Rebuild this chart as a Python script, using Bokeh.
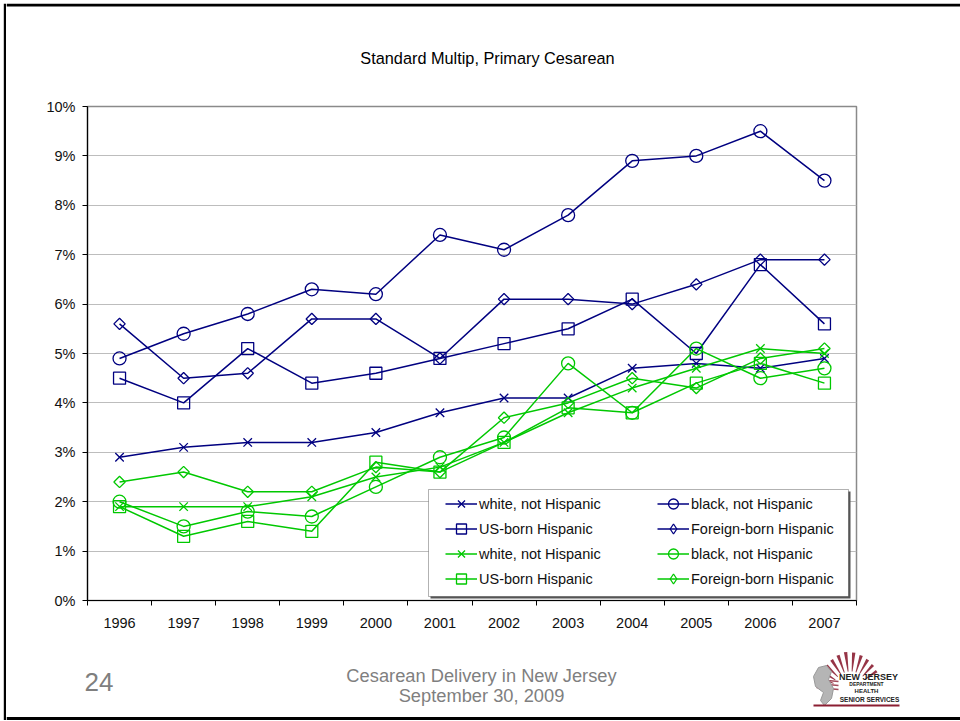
import numpy as np
from bokeh.plotting import figure
from bokeh.layouts import row, column
from bokeh.core.properties import value
from bokeh.models import (FixedTicker, PrintfTickFormatter, Legend, LegendItem,
                          BoxAnnotation, Range1d)
from bokeh.embed import file_html
from bokeh.resources import INLINE

# ---------------- data ----------------
years = [1996, 1997, 1998, 1999, 2000, 2001, 2002, 2003, 2004, 2005, 2006, 2007]
blue_white = [2.9, 3.1, 3.2, 3.2, 3.4, 3.8, 4.1, 4.1, 4.7, 4.8, 4.7, 4.9]
blue_black = [4.9, 5.4, 5.8, 6.3, 6.2, 7.4, 7.1, 7.8, 8.9, 9.0, 9.5, 8.5]
blue_us = [4.5, 4.0, 5.1, 4.4, 4.6, 4.9, 5.2, 5.5, 6.1, 5.0, 6.8, 5.6]
blue_foreign = [5.6, 4.5, 4.6, 5.7, 5.7, 4.9, 6.1, 6.1, 6.0, 6.4, 6.9, 6.9]
green_white = [1.9, 1.9, 1.9, 2.1, 2.5, 2.7, 3.2, 3.8, 4.3, 4.7, 5.1, 5.0]
green_black = [2.0, 1.5, 1.8, 1.7, 2.3, 2.9, 3.3, 4.8, 3.8, 5.1, 4.5, 4.7]
green_us = [1.9, 1.3, 1.6, 1.4, 2.8, 2.6, 3.2, 3.9, 3.8, 4.4, 4.8, 4.4]
green_foreign = [2.4, 2.6, 2.2, 2.2, 2.7, 2.6, 3.7, 4.0, 4.5, 4.3, 4.9, 5.1]
series_labels = ["white, not Hispanic", "black, not Hispanic",
                 "US-born Hispanic", "Foreign-born Hispanic"]
y_ticks = [0, 1, 2, 3, 4, 5, 6, 7, 8, 9, 10]
title_text = "Standard Multip, Primary Cesarean"
footer1 = "Cesarean Delivery in New Jersey"
footer2 = "September 30, 2009"
slide_no = "24"
logo_texts = ["NEW JERSEY", "DEPARTMENT", "HEALTH", "SENIOR SERVICES"]

BLUE = "#000080"
GREEN = "#00C800"
MAROON = "#8b1e32"
GREY = "#7f7f7f"
FONT = "Liberation Sans"

PAGE_W, PAGE_H = 960, 721
STRIP_W = 6
COL_W = PAGE_W - STRIP_W
TOP_H, CHART_H = 90, 550
FOOT_H = PAGE_H - TOP_H - CHART_H


def pixel_fig(w, h):
    """helper figure whose frame fills the canvas, y measured downward in px"""
    f = figure(width=w, height=h, output_backend="svg", toolbar_location=None,
               x_range=Range1d(0, w), y_range=Range1d(h, 0),
               x_axis_location=None, y_axis_location=None, min_border=0,
               frame_align=False)
    f.title.visible = False
    f.outline_line_color = None
    f.grid.visible = False
    f.background_fill_color = "white"
    f.border_fill_color = "white"
    return f


# ---------------- left strip with slide border ----------------
strip = pixel_fig(STRIP_W, PAGE_H)
strip.quad(left=[3.3], right=[6], top=[3.3], bottom=[719.5], fill_color="black",
           line_color=None)

# ---------------- top: title ----------------
top = pixel_fig(COL_W, TOP_H)
top.quad(left=[0], right=[COL_W], top=[3.3], bottom=[6], fill_color="black",
         line_color=None)
top.text(x=[487 - STRIP_W], y=[57], text=[title_text], text_align="center",
         text_baseline="middle", text_font=value(FONT), text_font_size=value("16.3px"),
         text_color="black")

# ---------------- chart ----------------
FL, FR, FT, FB = 87 - STRIP_W, 856 - STRIP_W, 106 - TOP_H, 600 - TOP_H
p = figure(width=COL_W, height=CHART_H, output_backend="svg", toolbar_location=None,
           x_range=Range1d(years[0] - 0.5, years[-1] + 0.5), y_range=Range1d(0, 10),
           min_border_left=FL, min_border_right=COL_W - FR, min_border_top=FT,
           min_border_bottom=CHART_H - FB, background_fill_color="white",
           border_fill_color="white", frame_align=False)
p.title.visible = False
p.outline_line_color = "#8a8a8a"
p.outline_line_width = 1.5

p.xgrid.grid_line_color = None
p.ygrid.grid_line_color = "#bdbdbd"
p.ygrid.grid_line_width = 1.2

p.xaxis.ticker = FixedTicker(ticks=years,
                             minor_ticks=[y - 0.5 for y in years] + [years[-1] + 0.5])
p.xaxis.formatter = PrintfTickFormatter(format="%d")
p.xaxis.major_tick_out = 0
p.xaxis.major_tick_in = 0
p.xaxis.minor_tick_out = 5
p.xaxis.minor_tick_in = 0
p.xaxis.minor_tick_line_color = "black"
p.xaxis.major_label_standoff = 12

p.yaxis.ticker = FixedTicker(ticks=y_ticks, minor_ticks=[])
p.yaxis.formatter = PrintfTickFormatter(format="%d%%")
p.yaxis.major_tick_out = 5
p.yaxis.major_tick_in = 0
p.yaxis.major_label_standoff = 7

for ax in (p.xaxis, p.yaxis):
    ax.axis_line_color = "black"
    ax.axis_line_width = 1.2
    ax.major_tick_line_color = "black"
    ax.major_label_text_font = FONT
    ax.major_label_text_font_size = "14.5px"
    ax.major_label_text_color = "#111111"

# (marker, size, angle, legend marker)
markers = [("x", 12, 0, "x"), ("circle", 13, 0, "circle"), ("square", 12, 0, "square"),
           ("square", 8, np.pi / 4, "diamond")]
groups = [(BLUE, [blue_white, blue_black, blue_us, blue_foreign]),
          (GREEN, [green_white, green_black, green_us, green_foreign])]

items = []
for color, vals_list in groups:
    for (mk, sz, ang, lmk), vals, lab in zip(markers, vals_list, series_labels):
        lr = p.line(years, vals, line_color=color, line_width=1.5)
        sr = p.scatter(years, vals, marker=mk, size=sz, angle=ang,
                       line_color=color, fill_color=None, line_width=1.3)
        if lmk != mk:
            # legend-only glyph (rotated markers are not rotated in legends)
            leg_r = p.scatter(years, vals, marker=lmk, size=sz, line_color=color,
                              fill_color=None, line_width=1.3, visible=False)
        else:
            leg_r = sr
        items.append(LegendItem(label=lab, renderers=[lr, leg_r]))

# legend box (frame-relative screen units)
shadow = BoxAnnotation(left=343, right=763, top=109, bottom=2,
                       left_units="screen", right_units="screen",
                       top_units="screen", bottom_units="screen",
                       fill_color="#555555", fill_alpha=1, line_color=None)
box = BoxAnnotation(left=341, right=761, top=111, bottom=4,
                    left_units="screen", right_units="screen",
                    top_units="screen", bottom_units="screen",
                    fill_color="white", fill_alpha=1, line_color="black", line_width=1)
p.add_layout(shadow)
p.add_layout(box)

col1 = [items[0], items[2], items[4], items[6]]
col2 = [items[1], items[3], items[5], items[7]]
for its, lx in ((col1, 358), (col2, 570)):
    lg = Legend(items=its, location=(lx, 9), padding=0, margin=0, spacing=0,
                glyph_width=32, glyph_height=25, label_height=25, label_standoff=2,
                border_line_color=None, background_fill_alpha=0,
                label_text_font=FONT, label_text_font_size="14.5px",
                label_text_color="#111111", click_policy="none")
    p.add_layout(lg)

# ---------------- footer ----------------
foot = pixel_fig(COL_W, FOOT_H)
oy = TOP_H + CHART_H  # page y of footer top


def fx(px_):
    return px_ - STRIP_W


def fy(py_):
    return py_ - oy


foot.quad(left=[0], right=[COL_W], top=[fy(716.5)], bottom=[fy(719.5)],
          fill_color="black", line_color=None)
foot.text(x=[fx(481), fx(481)], y=[fy(675), fy(695)], text=[footer1, footer2],
          text_align="center", text_baseline="middle", text_font=value(FONT),
          text_font_size=value("18.3px"), text_color=GREY)
foot.text(x=[fx(84)], y=[fy(681)], text=[slide_no], text_align="left",
          text_baseline="middle", text_font=value(FONT), text_font_size=value("26px"),
          text_color=GREY)

# logo (decoration)
cx, cy = 850, 689
ray_xs, ray_ys = [], []
for a in np.linspace(160, 35, 11):
    r0, r1, w = 18, 38 - abs(a - 95) * 0.1, 2.6
    pts = [(r0, a - w * 0.5), (r1, a - w), (r1, a + w), (r0, a + w * 0.5)]
    ray_xs.append([fx(cx + r * np.cos(np.radians(t))) for r, t in pts])
    ray_ys.append([fy(cy - r * np.sin(np.radians(t))) for r, t in pts])
foot.patches(ray_xs, ray_ys, fill_color=MAROON, fill_alpha=0.9, line_color=None)
for yy in (679, 683, 687):
    foot.segment(x0=[fx(816)], y0=[fy(yy)], x1=[fx(838)], y1=[fy(yy + 2)],
                 line_color=MAROON, line_width=1.5, line_alpha=0.8)
nj = [(818, 667), (826, 665), (831, 671), (828, 679), (833, 688), (831, 698),
      (824, 705), (820, 700), (823, 692), (815, 686), (813, 676)]
foot.patch([fx(a) for a, b in nj], [fy(b) for a, b in nj], fill_color="#b5b5b5",
           line_color="#999999")
foot.quad(left=[fx(813)], right=[fx(899)], top=[fy(704)], bottom=[fy(706)],
          fill_color=MAROON, line_color=None)
logo_pos = [(868, 676), (866, 683), (866, 690), (869, 699)]
logo_sizes = ["9px", "5px", "6px", "6.5px"]
for txt, (px_, py_), fs in zip(logo_texts, logo_pos, logo_sizes):
    foot.text(x=[fx(px_)], y=[fy(py_)], text=[txt], text_align="center",
              text_baseline="middle", text_font=value(FONT), text_font_style="bold",
              text_font_size=value(fs), text_color="#222222")

layout = row(strip, column(top, p, foot, spacing=0), spacing=0)
open("out.html", "w").write(file_html(layout, INLINE))
